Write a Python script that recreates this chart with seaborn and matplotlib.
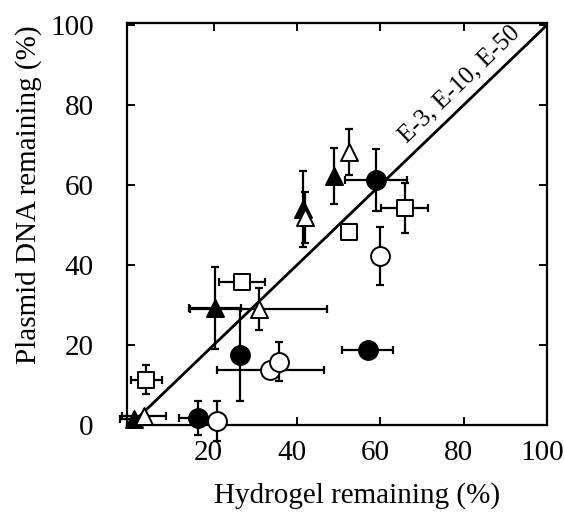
import matplotlib
matplotlib.use("Agg")
import matplotlib.pyplot as plt
import matplotlib.transforms as mtransforms
import seaborn as sns
import pandas as pd

# ---------------- data ----------------
# filled circles
fc_x = [16.2, 26.4, 59.0, 57.0]
fc_y = [1.7, 17.5, 61.3, 18.8]
fc_xerr = [4.6, 0.0, 7.5, 6.1]
fc_yerr = [4.2, 11.4, 7.7, 0.0]
# open circles
oc_x = [20.8, 33.6, 35.6, 60.0]
oc_y = [1.1, 13.8, 15.8, 42.3]
oc_xerr = [0.0, 12.8, 0.0, 0.0]
oc_yerr = [5.0, 0.0, 4.9, 7.3]
# filled triangles
ft_x = [0.8, 20.3, 41.4, 48.9]
ft_y = [1.5, 29.2, 54.0, 62.2]
ft_xerr = [3.3, 6.3, 0.0, 0.0]
ft_yerr = [0.0, 10.3, 9.5, 7.0]
# open triangles
ot_x = [3.3, 30.8, 41.8, 52.4]
ot_y = [2.2, 29.0, 51.9, 68.2]
ot_xerr = [5.2, 16.4, 0.0, 0.0]
ot_yerr = [0.0, 5.3, 6.3, 5.8]
# open squares
os_x = [3.8, 26.8, 52.4, 65.8]
os_y = [11.3, 35.7, 48.2, 54.2]
os_xerr = [3.7, 5.6, 0.0, 5.7]
os_yerr = [3.6, 0.0, 0.0, 6.2]

line_x = [0, 100]
line_y = [0, 100]
line_label = "E-3, E-10, E-50"

xticks = [20, 40, 60, 80, 100]
yticks = [0, 20, 40, 60, 80, 100]
xlabel = "Hydrogel remaining (%)"
ylabel = "Plasmid DNA remaining (%)"

# ---------------- styling ----------------
sns.set_theme(style="ticks")
plt.rcParams["font.family"] = ["Liberation Serif", "DejaVu Serif"]

fig = plt.figure(figsize=(5.64, 5.15), dpi=100)
ax = fig.add_axes([127 / 564, 90 / 515, 420 / 564, 402 / 515])

series = [
    ("fc", fc_x, fc_y, fc_xerr, fc_yerr, "o", "black", 185),
    ("oc", oc_x, oc_y, oc_xerr, oc_yerr, "o", "white", 185),
    ("ft", ft_x, ft_y, ft_xerr, ft_yerr, "^", "black", 150),
    ("ot", ot_x, ot_y, ot_xerr, ot_yerr, "^", "white", 150),
    ("os", os_x, os_y, os_xerr, os_yerr, "s", "white", 144),
]

frames = []
for name, x, y, xe, ye, m, fcol, s in series:
    frames.append(pd.DataFrame({"series": name, "x": x, "y": y, "xerr": xe, "yerr": ye}))
df = pd.concat(frames, ignore_index=True)

# diagonal line
sns.lineplot(x=line_x, y=line_y, ax=ax, color="black", linewidth=2.0, zorder=2)

for name, x, y, xe, ye, m, fcol, s in series:
    sub = df[df["series"] == name]
    eb = ax.errorbar(sub["x"], sub["y"], xerr=sub["xerr"], yerr=sub["yerr"],
                     fmt="none", ecolor="black", elinewidth=1.6, capsize=3,
                     capthick=1.6, zorder=3)
    for art in eb.get_children():
        art.set_clip_on(False)
    sc = sns.scatterplot(data=sub, x="x", y="y", ax=ax, marker=m, s=s,
                         color=fcol, edgecolor="black", linewidth=1.4,
                         zorder=4, legend=False)
for coll in ax.collections:
    coll.set_clip_on(False)

ax.text(66.3, 70.3, line_label, rotation=45, transform_rotates_text=True,
        rotation_mode="anchor", ha="left", va="baseline", fontsize=18,
        color="black")

ax.set_xlim(-0.8, 100)
ax.set_ylim(0, 100.5)
ax.set_xticks(xticks)
ax.set_xticklabels([str(t) for t in xticks])
ax.set_yticks(yticks)
ax.set_yticklabels([str(t) for t in yticks])
ax.tick_params(axis="both", direction="in", length=6, width=1.4, top=True,
               right=True, labelsize=21, colors="black")
ax.tick_params(axis="y", pad=24)
ax.tick_params(axis="x", pad=11)
for sp in ax.spines.values():
    sp.set_linewidth(1.6)
    sp.set_color("black")

shift = mtransforms.ScaledTranslation(-5 / 100, 0, fig.dpi_scale_trans)
for lab in ax.get_xticklabels():
    lab.set_transform(lab.get_transform() + shift)

ax.set_xlabel(xlabel, fontsize=21, color="black")
ax.set_ylabel(ylabel, fontsize=21, color="black")
ax.xaxis.set_label_coords(0.548, -0.142)
ax.yaxis.set_label_coords(-0.202, 0.572)

fig.savefig("out.png", dpi=100)
